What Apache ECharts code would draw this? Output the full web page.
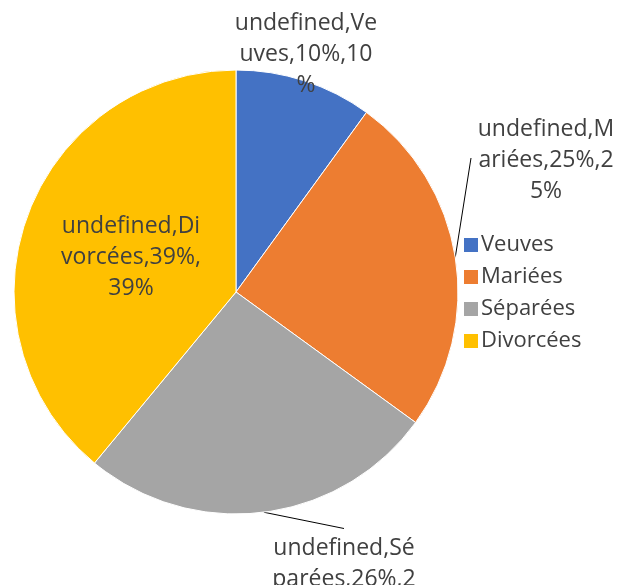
<!DOCTYPE html>
<html lang="fr">
<head>
    <meta charset="UTF-8">
    <title>Pie</title>
    <script type="text/javascript" src="https://cdn.jsdelivr.net/npm/echarts@6/dist/echarts.min.js"></script>
</head>
<body style="margin:0;background:#fff">
<div id="main" style="width: 618px;height: 585px"></div>
</body>
<script>
    var categories = ["Veuves", "Mariées", "Séparées", "Divorcées"]
    var values = [10, 25, 26, 39]
    var colors = ["#4472C4", "#ED7D31", "#A5A5A5", "#FFC000"]
    // where Excel put each label (label centre), which side the leader line hooks to, wrap width
    var labelPos = {
        "Veuves": [306, 54, null, 146],
        "Mariées": [546, 160, "left", 146],
        "Séparées": [344, 579, "top", 156],
        "Divorcées": [131, 257, null, 160]
    }
    // Excel wraps this one a touch earlier than the font here would
    var forcedBreaks = {"Divorcées": [12, 24]}

    var data = []
    for (var i = 0; i < categories.length; i++) {
        var lp = labelPos[categories[i]]
        data.push({
            name: categories[i],
            value: values[i],
            itemStyle: {color: colors[i]},
            label: {
                position: categories[i] == "Divorcées" ? "inside" : "outside",
                width: lp[3],
                overflow: "breakAll"
            },
            labelLine: {show: lp[2] != null}
        })
    }

    var myChart = echarts.init(document.getElementById("main"))
    myChart.setOption({
        animation: false,
        legend: {
            orient: "vertical",
            left: 457,
            top: 229,
            itemWidth: 16,
            itemHeight: 16,
            itemGap: 10,
            icon: "rect",
            textStyle: {fontFamily: "Open Sans", fontSize: 22, lineHeight: 22, color: "#404040", padding: [0, 0, 0, -3]},
            data: categories
        },
        series: [{
            type: "pie",
            center: [236, 292],
            radius: 222,
            startAngle: 90,
            clockwise: true,
            itemStyle: {borderColor: "#fff", borderWidth: 1},
            label: {
                formatter: function (p) {
                    var s = "undefined," + p.name + "," + Math.round(p.percent) + "%," + p.value + "%"
                    var br = forcedBreaks[p.name]
                    if (br) {
                        var parts = [], last = 0
                        for (var k = 0; k < br.length; k++) {
                            parts.push(s.slice(last, br[k]))
                            last = br[k]
                        }
                        parts.push(s.slice(last))
                        s = parts.join("\n")
                    }
                    return s
                },
                overflow: "breakAll",
                align: "center",
                fontFamily: "Open Sans",
                fontSize: 23,
                lineHeight: 31,
                color: "#404040"
            },
            labelLine: {lineStyle: {color: "#000", width: 1}, length: 10, length2: 10},
            labelLayout: function (params) {
                var name = categories[params.dataIndex]
                var p = labelPos[name]
                var out = {x: p[0], y: p[1], align: "center", verticalAlign: "middle"}
                if (p[2] && params.labelLinePoints) {
                    var start = params.labelLinePoints[0]
                    var w = params.labelRect.width, h = params.labelRect.height
                    var end = p[2] == "left" ? [p[0] - w / 2 - 2, p[1] - 2] : [p[0], p[1] - h / 2 - 4]
                    out.labelLinePoints = [start, end, end]
                }
                return out
            },
            data: data
        }]
    })
</script>
</html>
